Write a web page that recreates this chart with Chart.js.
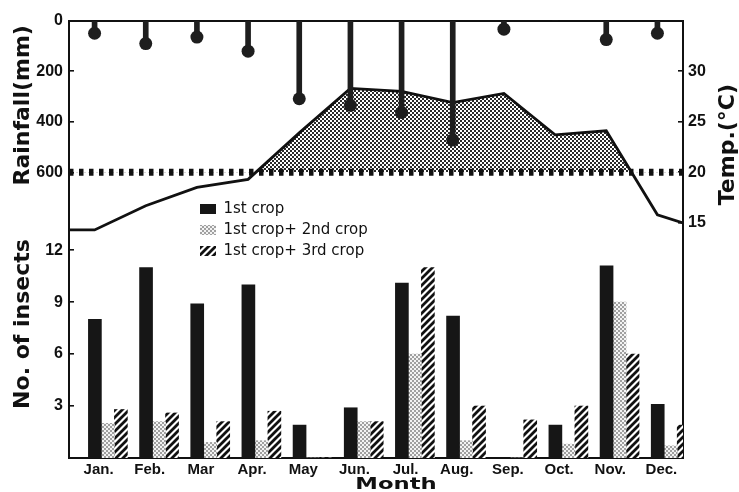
<!DOCTYPE html>
<html>
<head>
<meta charset="utf-8">
<script src="https://cdn.jsdelivr.net/npm/chart.js@4.4.1/dist/chart.umd.min.js"></script>
<style>
html,body{margin:0;padding:0;background:#fff;}
#wrap{position:relative;width:739px;height:492px;}
</style>
</head>
<body>
<div id="wrap"><canvas id="c" width="739" height="492"></canvas></div>
<script>
// ---------------- data ----------------
const months = ['Jan.', 'Feb.', 'Mar', 'Apr.', 'May', 'Jun.', 'Jul.', 'Aug.', 'Sep.', 'Oct.', 'Nov.', 'Dec.'];
const rainfall = [50, 91, 65, 121, 309, 335, 363, 472, 34, 0, 75, 50];          // mm
const temperature = [14.3, 16.7, 18.5, 19.3, 23.9, 28.3, 28.0, 26.9, 27.8, 23.7, 24.1, 15.8]; // °C
const temperatureStart = 14.3;   // line value at the left edge of the frame
const temperatureEnd = 15.0;     // line value at the right edge of the frame
const temperatureThreshold = 20; // dashed reference line
const firstCrop = [8.0, 11.0, 8.9, 10.0, 1.9, 2.9, 10.1, 8.2, 0, 1.9, 11.1, 3.1];
const firstSecondCrop = [2.0, 2.1, 0.9, 1.0, 0, 2.1, 6.0, 1.0, 0, 0.8, 9.0, 0.7];
const firstThirdCrop = [2.8, 2.6, 2.1, 2.7, 0, 2.1, 11.0, 3.0, 2.2, 3.0, 6.0, 1.9];
const seriesNames = ['1st crop', '1st crop+ 2nd crop', '1st crop+ 3rd crop'];
const rainTicks = [0, 200, 400, 600];
const tempTicks = [15, 20, 25, 30];
const insectTicks = [3, 6, 9, 12];

// ---------------- styling helpers ----------------
const canvas = document.getElementById('c');
const ctx = canvas.getContext('2d');

function makePattern(size, draw) {
  const t = document.createElement('canvas');
  t.width = size; t.height = size;
  const g = t.getContext('2d');
  draw(g, size);
  return ctx.createPattern(t, 'repeat');
}
const areaDots = makePattern(4, (g) => {
  g.fillStyle = '#ffffff'; g.fillRect(0, 0, 4, 4);
  g.fillStyle = '#2a2a2a'; g.fillRect(0, 0, 2, 2); g.fillRect(2, 2, 2, 2);
});
const lightDots = makePattern(4, (g) => {
  g.fillStyle = '#f3f3f3'; g.fillRect(0, 0, 4, 4);
  g.fillStyle = '#a0a0a0'; g.fillRect(0, 0, 2, 2); g.fillRect(2, 2, 2, 2);
});
const hatch = makePattern(7, (g, s) => {
  g.fillStyle = '#ffffff'; g.fillRect(0, 0, s, s);
  g.strokeStyle = '#111'; g.lineWidth = 2.8; g.lineCap = 'square';
  g.beginPath();
  g.moveTo(-4, 4); g.lineTo(4, -4);
  g.moveTo(-1, s + 1); g.lineTo(s + 1, -1);
  g.moveTo(s - 4, s + 4); g.lineTo(s + 4, s - 4);
  g.stroke();
});

const xy = (arr) => arr.map((v, i) => ({ x: i, y: v }));
const tickFont = { family: 'Liberation Sans', size: 16, weight: 'bold' };
const titleFont = { family: 'DejaVu Sans', size: 22, weight: 'bold' };
const ink = '#111';

// frame geometry of the reference (pixels) and bar layout (in month units)
const FRAME = { left: 69, right: 683, top: 14, bottom: 458, split: 186 };
const GROUP_OFFSET = 0.26;  // bar groups sit a little right of the month label
const BAR_STEP = 0.254;     // distance between neighbouring bars of a group
const barAxis = (k) => {
  const min = -0.5 - GROUP_OFFSET - (k - 1) * BAR_STEP;
  return { type: 'linear', axis: 'x', display: false, offset: false, min, max: min + months.length,
           ticks: { stepSize: 1, includeBounds: false } };
};

// ---------------- plugins ----------------
const legendPlacer = {
  id: 'legendPlacer',
  afterLayout(chart) {
    const lg = chart.legend;
    if (!lg) return;
    const w = lg.width;
    lg.left = 194; lg.top = 195.5;
    lg.right = lg.left + w; lg.bottom = lg.top + 120;
  }
};
const sideTitles = {
  id: 'sideTitles',
  afterDraw(chart) {
    const c = chart.ctx;
    const a = chart.chartArea;
    c.save();
    c.fillStyle = ink;
    c.textAlign = 'center';
    c.textBaseline = 'middle';
    c.font = 'bold 22px "DejaVu Sans"';
    c.save();
    c.translate(a.right + 45, a.top + 124);
    c.rotate(-Math.PI / 2);
    c.fillText('Temp.(°C)', 0, 0);
    c.restore();
    c.save();
    c.font = 'bold 16px "DejaVu Sans"';
    c.translate(396, 485);
    c.scale(1.42, 1);
    c.fillText('Month', 0, 0);
    c.restore();
    c.restore();
  }
};

// ---------------- chart ----------------
const leftGrid = { display: true, drawOnChartArea: false, drawTicks: true, tickLength: -5, color: ink, lineWidth: 1.6 };
const border = { display: true, color: ink, width: 2 };
const barStyle = { borderWidth: 0, barThickness: 13, grouped: false, order: 1 };

new Chart(ctx, {
  type: 'bar',
  data: {
    datasets: [
      { type: 'bar', label: seriesNames[0], data: xy(firstCrop), xAxisID: 'xb0', yAxisID: 'yi',
        backgroundColor: '#161616', ...barStyle },
      { type: 'bar', label: seriesNames[1], data: xy(firstSecondCrop), xAxisID: 'xb1', yAxisID: 'yi',
        backgroundColor: lightDots, ...barStyle },
      { type: 'bar', label: seriesNames[2], data: xy(firstThirdCrop), xAxisID: 'xb2', yAxisID: 'yi',
        backgroundColor: hatch, ...barStyle },
      { type: 'bar', label: 'Rainfall', data: xy(rainfall), xAxisID: 'xl', yAxisID: 'yr',
        backgroundColor: '#1e1e1e', borderWidth: 0, barThickness: 5, grouped: false, order: 0 },
      { type: 'line', label: 'Rainfall marker', data: rainfall.map((v, i) => ({ x: i, y: v > 0 ? v : null })),
        xAxisID: 'xl', yAxisID: 'yr', showLine: false, pointRadius: 6.5, pointBackgroundColor: '#1e1e1e',
        pointBorderWidth: 0, order: 0 },
      { type: 'line', label: 'Temperature',
        data: [{ x: -0.5, y: temperatureStart }, ...xy(temperature), { x: months.length - 0.5, y: temperatureEnd }],
        xAxisID: 'xl', yAxisID: 'yt', borderColor: ink, borderWidth: 2.8, pointRadius: 0, tension: 0,
        borderJoinStyle: 'miter',
        fill: { target: { value: temperatureThreshold }, above: areaDots, below: 'rgba(0,0,0,0)' }, order: 3 },
      { type: 'line', label: 'Threshold',
        data: [{ x: -0.5, y: temperatureThreshold }, { x: months.length - 0.5, y: temperatureThreshold }],
        xAxisID: 'xl', yAxisID: 'yt', borderColor: ink, borderWidth: 7, borderDash: [4.5, 5.5],
        borderCapStyle: 'butt', pointRadius: 0, fill: false, order: 2 }
    ]
  },
  options: {
    responsive: false,
    animation: false,
    devicePixelRatio: 1,
    events: [],
    layout: { padding: 0 },
    plugins: {
      tooltip: { enabled: false },
      legend: {
        display: true,
        position: 'chartArea',
        align: 'start',
        labels: {
          boxWidth: 16, boxHeight: 10, padding: 6, color: ink,
          font: { family: 'DejaVu Sans', size: 15 },
          filter: (item) => item.datasetIndex < 3
        }
      }
    },
    scales: {
      x: {
        type: 'category', labels: months, position: 'bottom', offset: true,
        grid: { display: false, drawTicks: false }, border,
        ticks: { font: { family: 'Liberation Sans', size: 15, weight: 'bold' }, color: ink, padding: 3,
                 labelOffset: 4, maxRotation: 0, autoSkip: false },
        afterFit: (s) => { s.height = 492 - FRAME.bottom; }
      },
      xt: {
        type: 'linear', axis: 'x', position: 'top', min: 0, max: 1, offset: false,
        grid: { display: false, drawTicks: false }, ticks: { display: false }, border,
        afterFit: (s) => { s.height = FRAME.top; }
      },
      xl: { type: 'linear', axis: 'x', display: false, min: -0.5, max: months.length - 0.5, offset: false,
            ticks: { stepSize: 1, includeBounds: false } },
      xb0: barAxis(0),
      xb1: barAxis(1),
      xb2: barAxis(2),
      yr: {
        type: 'linear', axis: 'y', position: 'left', stack: 'left', stackWeight: FRAME.split - FRAME.top, weight: 2,
        reverse: true, min: 0, max: 670,
        grid: leftGrid, border,
        ticks: { font: tickFont, color: ink, padding: 11, includeBounds: false },
        afterBuildTicks: (s) => { s.ticks = rainTicks.map((v) => ({ value: v })); },
        title: { display: true, text: 'Rainfall(mm)', font: titleFont, color: ink, padding: { top: 10, bottom: 0 } },
        afterFit: (s) => { s.width = FRAME.left; }
      },
      yi: {
        type: 'linear', axis: 'y', position: 'left', stack: 'left', stackWeight: FRAME.bottom - FRAME.split, weight: 1,
        min: 0, max: 15.47,
        grid: leftGrid, border,
        ticks: { font: tickFont, color: ink, padding: 11, includeBounds: false },
        afterBuildTicks: (s) => { s.ticks = insectTicks.map((v) => ({ value: v })); },
        title: { display: true, text: 'No. of insects', font: titleFont, color: ink, padding: { top: 10, bottom: 0 } },
        afterFit: (s) => { s.width = FRAME.left; }
      },
      yt: {
        type: 'linear', axis: 'y', position: 'right', min: -8.25, max: 35,
        grid: leftGrid, border,
        ticks: { font: tickFont, color: ink, padding: 10, includeBounds: false },
        afterBuildTicks: (s) => { s.ticks = tempTicks.map((v) => ({ value: v })); },
        afterFit: (s) => { s.width = 739 - FRAME.right; }
      }
    }
  },
  plugins: [legendPlacer, sideTitles]
});
</script>
</body>
</html>
